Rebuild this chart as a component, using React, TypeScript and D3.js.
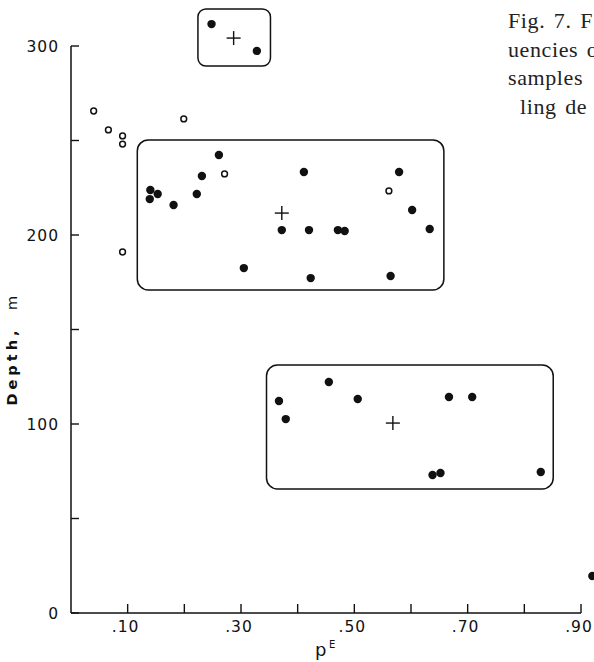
import React from "react";
import * as d3 from "d3";

// p^E values and depths (m)
const filledX = [0.248, 0.328, 0.140, 0.153, 0.139, 0.181, 0.222, 0.231, 0.261, 0.372, 0.305, 0.411, 0.579, 0.602, 0.633, 0.420, 0.471, 0.483, 0.423, 0.564, 0.367, 0.379, 0.455, 0.506, 0.667, 0.708, 0.638, 0.652, 0.829, 0.920];
const filledDepth = [311.6, 297.4, 223.8, 221.7, 219.0, 215.9, 221.7, 231.2, 242.3, 202.6, 182.5, 233.3, 233.3, 213.2, 203.2, 202.6, 202.6, 202.1, 177.2, 178.3, 112.2, 102.6, 122.2, 113.2, 114.3, 114.3, 73.0, 74.1, 74.6, 19.6];
const openX = [0.040, 0.066, 0.091, 0.091, 0.199, 0.271, 0.091, 0.561];
const openDepth = [265.6, 255.6, 252.4, 248.1, 261.4, 232.3, 191.0, 223.3];
const centroidX = [0.287, 0.372, 0.568];
const centroidDepth = [304.2, 211.6, 100.5];
// group boxes: [xMin, xMax, depthTop, depthBottom]
const boxXMin = [0.224, 0.117, 0.345];
const boxXMax = [0.352, 0.658, 0.851];
const boxDepthTop = [319.6, 250.3, 131.2];
const boxDepthBottom = [289.4, 170.9, 65.6];

const xTicks = [0.1, 0.2, 0.3, 0.4, 0.5, 0.6, 0.7, 0.8, 0.9];
const xTickLabels = [".10", "", ".30", "", ".50", "", ".70", "", ".90"];
const yTicks = [0, 50, 100, 150, 200, 250, 300];
const yTickLabels = ["0", "", "100", "", "200", "", "300"];
const captionLines = ["Fig. 7. F", "uencies o", "samples", "ling de"];

export default function App() {
  const W = 594, H = 662;
  const x = d3.scaleLinear().domain([0, 0.9]).range([71, 581]);
  const y = d3.scaleLinear().domain([0, 300]).range([613, 46]);
  const axisFont = "'DejaVu Sans', sans-serif";
  const ink = "#111";

  return (
    <svg width={W} height={H} style={{ position: "absolute", left: 0, top: 0, background: "#fff" }}>
      {/* caption */}
      {captionLines.map((t, i) => (
        <text key={i} x={i === 3 ? 520 : 508} y={28 + i * 28.5} fontFamily="'Liberation Serif', serif" fontSize={22} fill="#222" letterSpacing={0.6} wordSpacing={2.5}>
          {t}
        </text>
      ))}

      {/* axes */}
      <line x1={x(0)} y1={y(300)} x2={x(0)} y2={y(0)} stroke={ink} strokeWidth={1.5} />
      <line x1={x(0)} y1={y(0)} x2={x(0.9)} y2={y(0)} stroke={ink} strokeWidth={1.5} />
      {yTicks.map((t, i) => (
        <g key={"y" + t}>
          <line x1={x(0)} x2={x(0) + 8} y1={y(t)} y2={y(t)} stroke={ink} strokeWidth={1.4} />
          {yTickLabels[i] && (
            <text x={59} y={y(t)} dy="0.36em" textAnchor="end" fontFamily={axisFont} fontSize={15.5} letterSpacing={1} fill={ink}>
              {yTickLabels[i]}
            </text>
          )}
        </g>
      ))}
      {xTicks.map((t, i) => (
        <g key={"x" + t}>
          <line x1={x(t)} x2={x(t)} y1={y(0)} y2={y(0) - 9} stroke={ink} strokeWidth={1.4} />
          {xTickLabels[i] && (
            <text x={x(t) - 2} y={y(0) + 19} textAnchor="middle" fontFamily={axisFont} fontSize={15.5} letterSpacing={1} fill={ink}>
              {xTickLabels[i]}
            </text>
          )}
        </g>
      ))}

      {/* axis titles */}
      <text transform={`translate(17,366) rotate(-90)`} textAnchor="middle" fontFamily={axisFont} fontSize={14.5} fontWeight={600} letterSpacing={4} fill={ink}>
        Depth,
      </text>
      <text transform={`translate(17,303) rotate(-90)`} textAnchor="middle" fontFamily={axisFont} fontSize={14.5} fill={ink}>
        m
      </text>
      <text x={315} y={656} fontFamily={axisFont} fontSize={18} fill={ink}>p</text>
      <text x={329} y={648} fontFamily={axisFont} fontSize={10} fill={ink}>E</text>

      {/* group boxes */}
      {boxXMin.map((_, i) => (
        <rect key={"b" + i}
          x={x(boxXMin[i])} y={y(boxDepthTop[i])}
          width={x(boxXMax[i]) - x(boxXMin[i])} height={y(boxDepthBottom[i]) - y(boxDepthTop[i])}
          rx={i === 0 ? 8 : 11} fill="none" stroke={ink} strokeWidth={1.5} />
      ))}

      {/* centroids */}
      {centroidX.map((cx, i) => (
        <g key={"c" + i} stroke={ink} strokeWidth={1.4}>
          <line x1={x(cx) - 7} x2={x(cx) + 7} y1={y(centroidDepth[i])} y2={y(centroidDepth[i])} />
          <line x1={x(cx)} x2={x(cx)} y1={y(centroidDepth[i]) - 7} y2={y(centroidDepth[i]) + 7} />
        </g>
      ))}

      {/* points */}
      {openX.map((v, i) => (
        <circle key={"o" + i} cx={x(v)} cy={y(openDepth[i])} r={2.9} fill="#fff" stroke={ink} strokeWidth={1.5} />
      ))}
      {filledX.map((v, i) => (
        <circle key={"f" + i} cx={x(v)} cy={y(filledDepth[i])} r={4.2} fill={ink} />
      ))}
    </svg>
  );
}
